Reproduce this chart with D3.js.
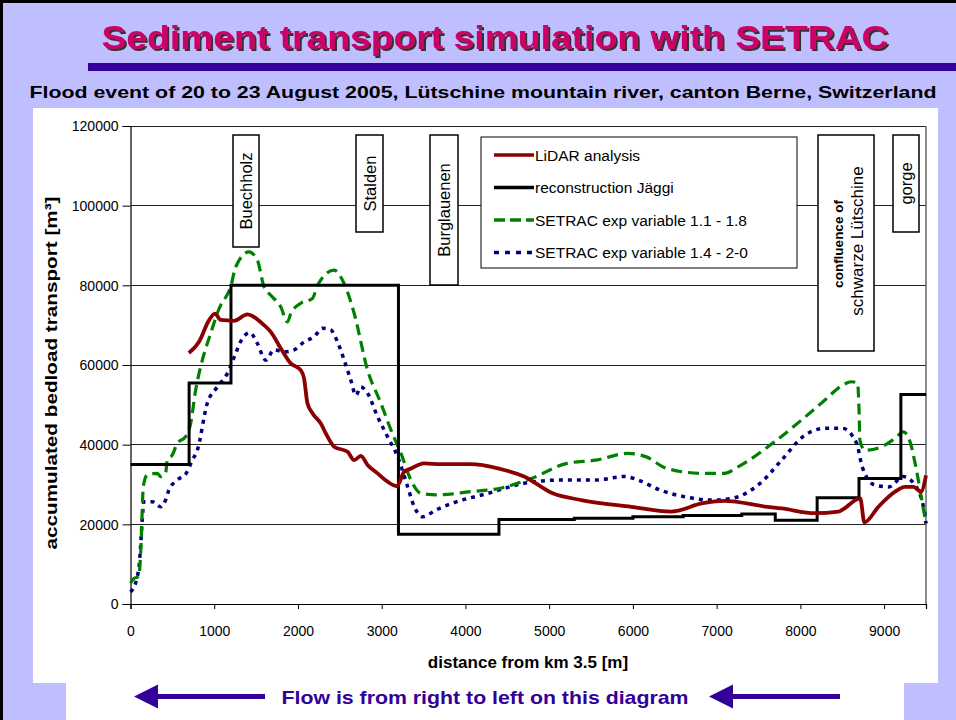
<!DOCTYPE html>
<html><head><meta charset="utf-8">
<script src="https://cdn.jsdelivr.net/npm/d3@7"></script>
<style>body{margin:0;padding:0;background:#fff}svg{display:block}text{font-family:"Liberation Sans",Arial,sans-serif}</style>
</head><body><div id="chart"></div>
<script>
// ---------- data ----------
const xTicks = [0,1000,2000,3000,4000,5000,6000,7000,8000,9000];
const yTicks = [0,20000,40000,60000,80000,100000,120000];

const lidarX = [697,817,937,1008,1077,1236,1396,1455,1595,1675,1794,1914,2033,2073,2113,2173,2273,2333,2432,2592,2671,2751,2831,2951,3070,3182,3268,3349,3504,3708,4058,4400,4700,5041,5383,5981,6451,6835,7092,7604,7775,8174,8453,8715,8764,8931,9131,9251,9350,9440,9500];
const lidarY = [63000,65800,71200,72900,71300,71100,72700,72300,70000,68300,64200,60400,58700,56600,50400,47900,45300,42800,39500,38200,36100,37200,34900,32800,30700,29600,33200,34000,35300,35100,35100,34000,32000,27800,26100,24400,23200,25300,25900,24400,24000,22800,23200,26500,20500,24400,28200,29400,29400,28200,32300];

const jaggiX = [0,700,1200,3200,4400,5300,6000,6600,7300,7700,8200,8700,9200,9500];
const jaggiY = [35000,55500,80000,17500,21200,21500,21900,22200,22600,21000,26700,31500,52600,52600];

const setrac1X = [0,40,100,112,128,140,152,199,319,359,419,439,499,558,658,718,778,837,957,1077,1117,1196,1256,1415,1515,1595,1675,1794,1874,1914,2033,2173,2233,2432,2552,2671,2831,2990,3110,3230,3349,3469,3669,4058,4400,4785,5212,5554,5938,6152,6408,6835,7092,7261,7690,8014,8293,8473,8612,8684,8700,8711,8771,8971,9131,9230,9310,9370,9450,9500];
const setrac1Y = [5200,6400,6900,9400,16000,23600,29400,32400,32800,32000,32800,36100,37400,40300,42000,45300,53700,59500,67900,75000,76300,79600,84600,88400,86300,79600,77500,74600,70800,72900,75500,76700,80000,83800,80400,73000,58700,50400,43700,37800,31100,27800,27400,28200,29000,31500,35300,36100,37800,37000,34000,32800,32800,34500,40700,46200,51200,54500,55800,55400,48700,41100,38600,39500,41600,43200,40700,35300,26100,20200];

const setrac2X = [0,20,100,120,140,160,259,359,419,458,558,670,738,798,917,1037,1157,1256,1336,1427,1515,1615,1714,1834,1953,2073,2193,2293,2392,2472,2552,2631,2691,2751,2831,2951,3070,3190,3310,3389,3489,3648,3845,4272,4700,5127,5554,5896,6066,6323,6622,6921,7177,7519,7775,8031,8288,8501,8672,8737,8886,9056,9227,9354,9485,9500];
const setrac2Y = [3000,3500,9000,14400,21100,25700,25700,24400,26100,28600,31100,33000,36100,38600,50400,54500,57900,62900,66700,68100,65400,61200,63800,63300,63800,65800,67100,69200,68800,65800,61200,56200,52400,54500,52900,47000,42000,37000,29400,24400,21900,23600,25300,27800,30300,31100,31100,32000,31100,28600,26900,26100,26500,30300,36100,42000,44100,44100,40300,34500,29900,29400,32000,30300,22800,20200];

const legendLabels = ["LiDAR analysis","reconstruction Jäggi","SETRAC exp variable 1.1 - 1.8","SETRAC exp variable 1.4 - 2-0"];
const placeNames = ["Buechholz","Stalden","Burglauenen","gorge"];

// ---------- drawing ----------
const W = 956, H = 720;
const svg = d3.select("#chart").append("svg").attr("width", W).attr("height", H);

const defs = svg.append("defs");
const f = defs.append("filter").attr("id","shadow").attr("x","-5%").attr("y","-20%").attr("width","110%").attr("height","150%");
f.append("feDropShadow").attr("dx",2).attr("dy",2).attr("stdDeviation",0.4).attr("flood-color","#333").attr("flood-opacity",1);

svg.append("rect").attr("width", W).attr("height", H).attr("fill", "#BFBFFF");
svg.append("path").attr("d", "M956,1.5H1.5V720").attr("fill","none").attr("stroke","#000").attr("stroke-width",3);

// title with shadow
svg.append("text").attr("x", 495).attr("y", 49).attr("text-anchor","middle")
  .attr("font-size", 34).attr("font-weight","bold").attr("fill","#CC0066")
  .attr("filter","url(#shadow)")
  .attr("textLength", 787).attr("lengthAdjust","spacingAndGlyphs").text("Sediment transport simulation with SETRAC");

svg.append("rect").attr("x", 88).attr("y", 63).attr("width", 868).attr("height", 8).attr("fill", "#330099");

svg.append("text").attr("x", 483).attr("y", 98).attr("text-anchor","middle")
  .attr("font-size", 17).attr("font-weight","bold").attr("fill","#000")
  .attr("textLength", 907).attr("lengthAdjust","spacingAndGlyphs")
  .text("Flood event of 20 to 23 August 2005, Lütschine mountain river, canton Berne, Switzerland");

// white panels
svg.append("rect").attr("x", 33).attr("y", 108).attr("width", 905).attr("height", 575).attr("fill", "#fff");
svg.append("rect").attr("x", 66).attr("y", 683).attr("width", 838).attr("height", 37).attr("fill", "#fff");

// scales
const x = d3.scaleLinear().domain([0, 9500]).range([130.5, 926]);
const y = d3.scaleLinear().domain([0, 120000]).range([604, 126]);

// gridlines
svg.append("g").selectAll("line").data(yTicks.filter(d => d > 0)).join("line")
  .attr("x1", x(0)).attr("x2", x(9500)).attr("y1", d => y(d)).attr("y2", d => y(d))
  .attr("stroke", "#222").attr("stroke-width", 1).attr("shape-rendering","crispEdges");
svg.append("line").attr("x1", x(9500)).attr("x2", x(9500)).attr("y1", y(120000)).attr("y2", y(0))
  .attr("stroke", "#666").attr("stroke-width", 1.5);

// axes
const yAxis = svg.append("g").attr("transform", `translate(${x(0)},0)`)
  .call(d3.axisLeft(y).tickValues(yTicks).tickSize(8).tickPadding(4).tickFormat(d3.format("d")));
const xAxis = svg.append("g").attr("transform", `translate(0,${y(0)})`)
  .call(d3.axisBottom(x).tickValues(xTicks).tickSize(5).tickPadding(17).tickFormat(d3.format("d")));
[yAxis, xAxis].forEach(g => {
  g.select(".domain").attr("stroke", "#000").attr("stroke-width", 1.2);
  g.selectAll(".tick line").attr("stroke", "#000");
  g.selectAll("text").attr("font-size", 14).attr("fill", "#000").attr("font-family", '"Liberation Sans",Arial,sans-serif');
});
yAxis.selectAll("text").attr("dy", "0.35em");

// axis titles
svg.append("text").attr("transform", "translate(57,373) rotate(-90)").attr("text-anchor","middle")
  .attr("font-size", 17).attr("font-weight","bold").attr("textLength", 353).attr("lengthAdjust","spacingAndGlyphs")
  .text("accumulated bedload transport [m³]");
svg.append("text").attr("x", 528).attr("y", 668).attr("text-anchor","middle")
  .attr("font-size", 17).attr("font-weight","bold").text("distance from km 3.5 [m]");

// series
const mk = (xs, ys) => xs.map((v, i) => [v, ys[i]]);
const line = d3.line().x(d => x(d[0])).y(d => y(d[1])).curve(d3.curveMonotoneX);
const stepLine = d3.line().x(d => x(d[0])).y(d => y(d[1])).curve(d3.curveStepAfter);

svg.append("path").datum(mk(setrac2X, setrac2Y)).attr("d", line)
  .attr("fill","none").attr("stroke","#000080").attr("stroke-width",3.5).attr("stroke-dasharray","4,5");
svg.append("path").datum(mk(setrac1X, setrac1Y)).attr("d", line)
  .attr("fill","none").attr("stroke","#008000").attr("stroke-width",3.2).attr("stroke-dasharray","11,6");
svg.append("path").datum(mk(jaggiX, jaggiY)).attr("d", stepLine)
  .attr("fill","none").attr("stroke","#000").attr("stroke-width",3);
svg.append("path").datum(mk(lidarX, lidarY)).attr("d", line)
  .attr("fill","none").attr("stroke","#8B0000").attr("stroke-width",3.8).attr("stroke-linejoin","round");

// place annotation boxes
const places = [
  {name: placeNames[0], x0: 233, y0: 135, w: 26, h: 112},
  {name: placeNames[1], x0: 356, y0: 135, w: 27, h: 97},
  {name: placeNames[2], x0: 430, y0: 135, w: 28, h: 150},
  {name: placeNames[3], x0: 893, y0: 135, w: 26, h: 97}
];
places.forEach(p => {
  svg.append("rect").attr("x", p.x0).attr("y", p.y0).attr("width", p.w).attr("height", p.h)
    .attr("fill","#fff").attr("stroke","#000").attr("stroke-width",1.5);
  svg.append("text").attr("transform", `translate(${p.x0 + p.w/2 + 6},${p.y0 + p.h/2}) rotate(-90)`)
    .attr("text-anchor","middle").attr("font-size", 16.5).text(p.name);
});
svg.append("rect").attr("x", 818).attr("y", 135).attr("width", 56).attr("height", 216)
  .attr("fill","#fff").attr("stroke","#000").attr("stroke-width",1.5);
svg.append("text").attr("transform", "translate(843,244) rotate(-90)").attr("text-anchor","middle")
  .attr("font-size", 13.5).attr("font-weight","bold").text("confluence of");
svg.append("text").attr("transform", "translate(863,241) rotate(-90)").attr("text-anchor","middle")
  .attr("font-size", 17).text("schwarze Lütschine");

// legend
const lg = svg.append("g");
lg.append("rect").attr("x", 481).attr("y", 137).attr("width", 316).attr("height", 131)
  .attr("fill","#fff").attr("stroke","#000").attr("stroke-width",1);
const lstyles = [
  {c:"#8B0000", w:3.5, d:null},
  {c:"#000", w:3.5, d:null},
  {c:"#008000", w:3.5, d:"11,5"},
  {c:"#000080", w:3.5, d:"5,6"}
];
legendLabels.forEach((t, i) => {
  const cy = 155 + i * 32.5;
  lg.append("line").attr("x1", 494).attr("x2", 534).attr("y1", cy).attr("y2", cy)
    .attr("stroke", lstyles[i].c).attr("stroke-width", lstyles[i].w)
    .attr("stroke-dasharray", lstyles[i].d);
  lg.append("text").attr("x", 535).attr("y", cy + 5.5).attr("font-size", 15.5).text(t);
});

// flow note
svg.append("text").attr("x", 485).attr("y", 704).attr("text-anchor","middle")
  .attr("font-size", 19).attr("font-weight","bold").attr("fill","#330099")
  .attr("textLength", 407).attr("lengthAdjust","spacingAndGlyphs")
  .text("Flow is from right to left on this diagram");
function arrow(tip, tail) {
  const cy = 696.5;
  svg.append("path").attr("d", `M${tip},${cy} L${tip+24},${cy-12} L${tip+24},${cy-2.5} L${tail},${cy-2.5} L${tail},${cy+2.5} L${tip+24},${cy+2.5} L${tip+24},${cy+12} Z`)
    .attr("fill", "#330099");
}
arrow(134, 265);
arrow(709, 840);
</script></body></html>
